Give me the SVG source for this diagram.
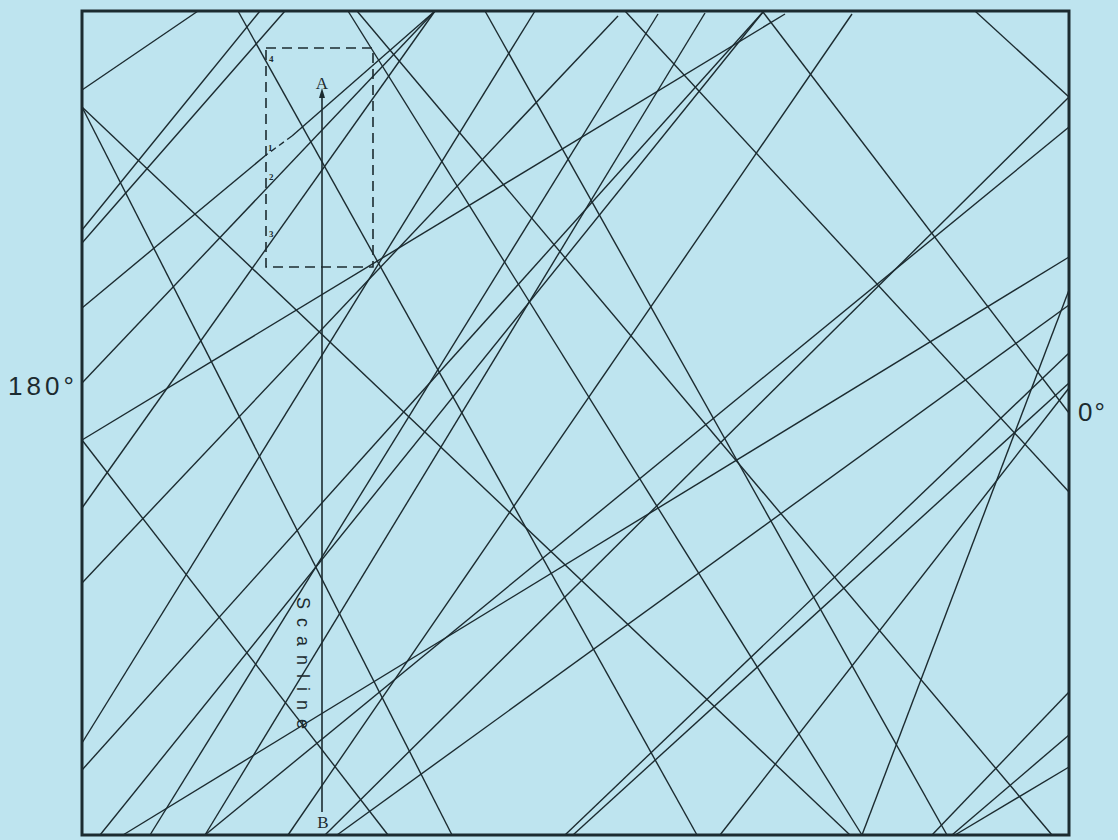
<svg xmlns="http://www.w3.org/2000/svg" width="1118" height="840" viewBox="0 0 1118 840">
<style>
.ln{stroke:#1c2b30;stroke-width:1.4;fill:none}
.lbl{font-family:"Liberation Sans",Arial,sans-serif;fill:#1c2b30}
.num{font-family:"Liberation Serif",serif;font-size:9px;font-weight:bold;fill:#1c2b30}
</style>
<rect x="0" y="0" width="1118" height="840" fill="#bee4ef"/>
<g id="lines" class="ln">
<line x1="198" y1="11" x2="82" y2="90"/>
<line x1="238" y1="11" x2="697" y2="835"/>
<line x1="260" y1="11" x2="82" y2="230"/>
<line x1="285" y1="11" x2="82" y2="243"/>
<line x1="348" y1="11" x2="862" y2="835"/>
<line x1="357" y1="11" x2="1052" y2="835"/>
<line x1="435" y1="11" x2="292" y2="136"/>
<line x1="292" y1="136" x2="266" y2="155" stroke-dasharray="6 4"/>
<line x1="266" y1="155" x2="82" y2="308"/>
<line x1="435" y1="11" x2="82" y2="383"/>
<line x1="435" y1="11" x2="82" y2="508"/>
<line x1="485" y1="11" x2="947" y2="835"/>
<line x1="535" y1="11" x2="82" y2="743"/>
<line x1="618" y1="16" x2="82" y2="583"/>
<line x1="625" y1="11" x2="1069" y2="492"/>
<line x1="658" y1="14" x2="150" y2="835"/>
<line x1="705" y1="13" x2="205" y2="835"/>
<line x1="763" y1="12" x2="100" y2="835"/>
<line x1="763" y1="12" x2="1069" y2="413"/>
<line x1="785" y1="14" x2="82" y2="440"/>
<line x1="852" y1="14" x2="288" y2="835"/>
<line x1="975" y1="11" x2="1069" y2="97"/>
<line x1="1069" y1="97" x2="325" y2="835"/>
<line x1="1069" y1="127" x2="205" y2="835"/>
<line x1="1069" y1="257" x2="123" y2="835"/>
<line x1="1069" y1="290" x2="862" y2="835"/>
<line x1="1069" y1="305" x2="337" y2="835"/>
<line x1="1069" y1="353" x2="565" y2="835"/>
<line x1="1069" y1="383" x2="573" y2="835"/>
<line x1="1069" y1="388" x2="720" y2="835"/>
<line x1="1069" y1="692" x2="932" y2="835"/>
<line x1="1069" y1="735" x2="952" y2="835"/>
<line x1="1069" y1="767" x2="955" y2="835"/>
<line x1="82" y1="107" x2="850" y2="835"/>
<line x1="82" y1="107" x2="452" y2="835"/>
<line x1="82" y1="440" x2="388" y2="835"/>
<line x1="82" y1="770" x2="763" y2="12"/>
</g>
<g id="frame">
<rect x="82" y="11" width="987" height="824" fill="none" stroke="#1c2b30" stroke-width="3"/>
</g>
<g id="box">
<rect x="266" y="48" width="107" height="219" fill="none" stroke="#1c2b30" stroke-width="1.6" stroke-dasharray="10 6"/>
<text class="num" x="269" y="62">4</text>
<text class="num" x="268" y="151">1</text>
<text class="num" x="269" y="180">2</text>
<text class="num" x="269" y="237">3</text>
</g>
<g id="scanline">
<line x1="322" y1="92" x2="322" y2="812" stroke="#1c2b30" stroke-width="1.6"/>
<polygon points="322,88 319,98 325,98" fill="#1c2b30"/>
<text x="322" y="89" text-anchor="middle" style="font-family:'Liberation Serif',serif;font-size:17px;fill:#1c2b30">A</text>
<text x="323" y="828" text-anchor="middle" style="font-family:'Liberation Serif',serif;font-size:17px;fill:#1c2b30">B</text>
<text class="lbl" transform="translate(297,597) rotate(90)" style="font-size:18px;letter-spacing:9px">Scanline</text>
</g>
<g id="labels">
<text class="lbl" x="8" y="395" style="font-size:26px;letter-spacing:4px">180°</text>
<text class="lbl" x="1078" y="421" style="font-size:26px;letter-spacing:2px">0°</text>
</g>
</svg>
